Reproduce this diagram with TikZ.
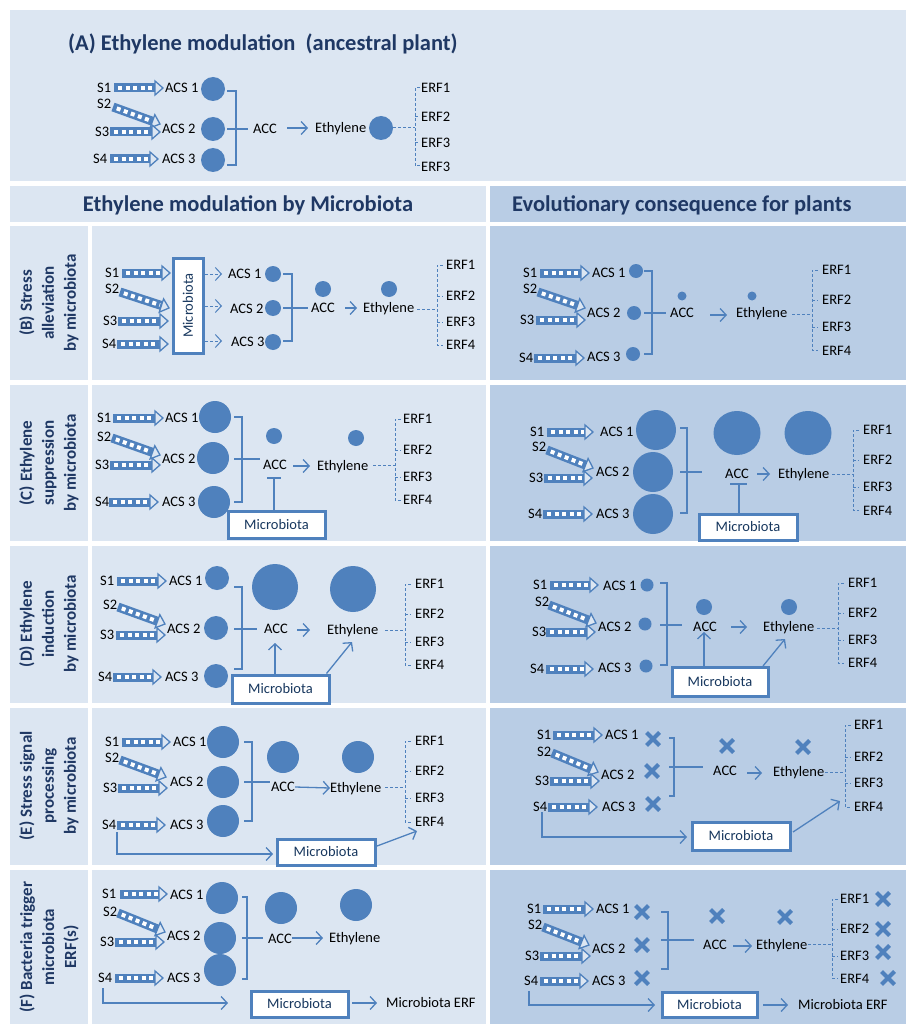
\documentclass[tikz,border=0pt]{standalone}
\usepackage{fontspec}
\setmainfont{Carlito}
\usetikzlibrary{calc,arrows.meta}
\definecolor{mblue}{HTML}{4F81BD}
\definecolor{cellL}{HTML}{DCE6F2}
\definecolor{cellR}{HTML}{B9CDE5}
\definecolor{navy}{HTML}{1F3864}
\definecolor{mtext}{HTML}{17375E}
\newcommand\dgfont{\fontsize{14.5}{16}\selectfont}
\newcommand\hdfont{\fontsize{22.5}{26}\selectfont\bfseries}
\newcommand\sidefont{\fontsize{17}{22}\selectfont\bfseries}
\newcommand\stripe[2]{%
  \coordinate (sA) at (#1);
  \coordinate (sT) at (#2);
  \coordinate (sB) at ($(sT)!8pt!(sA)$);
  \coordinate (sH1) at ($(sB)!7pt!90:(sT)$);
  \coordinate (sH2) at ($(sB)!7pt!-90:(sT)$);
  \draw[mblue,line width=9pt] (sA) -- (sB);
  \draw[white,line width=4pt,dash pattern=on 4pt off 3.5pt,shorten <=4pt,shorten >=1.5pt] (sA) -- (sB);
  \filldraw[fill=mblue!20,draw=mblue,line width=1.3pt,line join=miter] (sT) -- (sH1) -- (sH2) -- cycle;
}
\newcommand\xmk[1]{\draw[mblue,line width=4pt,shift={(#1)}] (-6.5,-6.5) -- (6.5,6.5) (-6.5,6.5) -- (6.5,-6.5);}
\begin{document}
\begin{tikzpicture}[x=1pt,y=-1pt,
  lbl/.style={font=\dgfont, inner sep=0pt, text height=10pt, text depth=1pt, anchor=west},
  bdot/.style={circle, fill=mblue, inner sep=0pt, minimum size=#1},
  mbox/.style={draw=mblue, line width=3pt, fill=white, font=\dgfont, text=mtext, inner sep=0pt},
  ln/.style={mblue, line width=1.3pt},
  arr/.style={ln, -{Straight Barb[length=6pt,width=13pt]}},
  dsh/.style={mblue, line width=1pt, dash pattern=on 3pt off 2pt},
  darr/.style={dsh, -{Straight Barb[length=6pt,width=13pt]}},
  side/.style={rotate=90, align=center, font=\sidefont, text=navy, inner sep=0pt},
  hdr/.style={font=\hdfont, text=navy, inner sep=0pt}]
\useasboundingbox (0,0) rectangle (906,1024);
\fill[white] (0,0) rectangle (906,1024);
% ---------- cells ----------
\fill[cellL] (10,10) rectangle (906,181);
\fill[cellL] (10,186) rectangle (486,222);
\fill[cellR] (490,186) rectangle (906,222);
\foreach \t/\b in {226/380,385/541,546/703,708/865,870/1024}{
  \fill[cellL] (10,\t) rectangle (88,\b);
  \fill[cellL] (92,\t) rectangle (486,\b);
  \fill[cellR] (490,\t) rectangle (906,\b);
}
% ---------- headings ----------
\node[hdr,anchor=west] (titleA) at (68,44) {(A) Ethylene modulation \ (ancestral plant)};
\node[hdr] (hL) at (248,205) {Ethylene modulation by Microbiota};
\node[hdr,anchor=west] (hR) at (512,205) {Evolutionary consequence for plants};
\node[side] (sB) at (49,303) {(B) Stress\\alleviation\\by microbiota};
\node[side] (sC) at (49,463) {(C) Ethylene\\suppression\\by microbiota};
\node[side] (sD) at (49,624) {(D) Ethylene\\induction\\by microbiota};
\node[side] (sE) at (49,786) {(E) Stress signal\\processing\\by microbiota};
\node[side] (sF) at (49,947) {(F) Bacteria trigger\\microbiota\\ERF(s)};
% ================= Panel A =================
\node[lbl] (aS1) at (97,88) {S1};
\node[lbl] (aS2) at (97,104) {S2};
\node[lbl] (aS3) at (95,132) {S3};
\node[lbl] (aS4) at (93,159) {S4};
\stripe{114,88}{163,88}
\stripe{113,107}{160,124}
\stripe{110,132}{160,132}
\stripe{110,159}{158,159}
\node[lbl] (aA1) at (165,88) {ACS 1};
\node[lbl] (aA2) at (162,129) {ACS 2};
\node[lbl] (aA3) at (162,159) {ACS 3};
\node[bdot=24pt] (aC1) at (213,89) {};
\node[bdot=24pt] (aC2) at (213,129) {};
\node[bdot=24pt] (aC3) at (213,160) {};
\draw[ln] (227,91) -| (236,165) -- (227,165);
\draw[ln] (227,129) -- (248,129);
\node[lbl] (aACC) at (253,129) {ACC};
\draw[arr] (287,128) -- (308,128);
\node[lbl] (aEth) at (315,128) {Ethylene};
\node[bdot=24pt] (aCE) at (381,128) {};
\draw[dsh] (393,128) -- (415,128);
\draw[dsh] (420,88) -- (415,88) -- (415,166) -- (420,166) (415,117) -- (420,117) (415,143) -- (420,143);
\node[lbl] (aE1) at (421,88) {ERF1};
\node[lbl] (aE2) at (421,117) {ERF2};
\node[lbl] (aE3) at (421,143) {ERF3};
\node[lbl] (aE4) at (421,167) {ERF3};
% ================= Panel B left =================
\node[lbl] (blS1) at (105,273) {S1};
\node[lbl] (blS2) at (105,289) {S2};
\node[lbl] (blS3) at (103,321) {S3};
\node[lbl] (blS4) at (102,344) {S4};
\stripe{122,273}{170,273}
\stripe{120,292}{169,308}
\stripe{118,321}{168,321}
\stripe{117,344}{168,344}
\node[mbox, minimum width=30pt, minimum height=95pt] (blM) at (188,305.5) {};
\node[rotate=90, font=\dgfont, text=mtext] at (blM) {Microbiota};
\draw[darr] (205,274) -- (222,274);
\draw[darr] (205,306) -- (222,306);
\draw[darr] (205,341) -- (222,341);
\node[lbl] (blA1) at (228,274) {ACS 1};
\node[lbl] (blA2) at (230,309) {ACS 2};
\node[lbl] (blA3) at (231,342) {ACS 3};
\node[bdot=16pt] at (273,274) {};
\node[bdot=16pt] at (273,308) {};
\node[bdot=16pt] at (273,342) {};
\draw[ln] (283,274) -| (292,341) -- (283,341);
\draw[ln] (283,308) -- (308,308);
\node[lbl] (blACC) at (311,308) {ACC};
\node[bdot=16pt] at (323,289) {};
\draw[arr] (345,308) -- (357,308);
\node[lbl] (blEth) at (363,308) {Ethylene};
\node[bdot=16pt] at (389,289) {};
\draw[dsh] (417,309) -- (437,309);
\draw[dsh] (443,265) -- (437,265) -- (437,345) -- (443,345) (437,296) -- (443,296) (437,322) -- (443,322);
\node[lbl] at (446,265) {ERF1};
\node[lbl] at (446,296) {ERF2};
\node[lbl] at (446,322) {ERF3};
\node[lbl] at (446,345) {ERF4};
% ================= Panel B right =================
\node[lbl] at (523,273) {S1};
\node[lbl] at (523,289) {S2};
\node[lbl] at (520,320) {S3};
\node[lbl] at (519,358) {S4};
\stripe{540,273}{589,273}
\stripe{538,292}{585,308}
\stripe{536,320}{585,320}
\stripe{534,358}{584,358}
\node[lbl] at (592,273) {ACS 1};
\node[lbl] at (587,313) {ACS 2};
\node[lbl] at (587,357) {ACS 3};
\node[bdot=14pt] at (636,271) {};
\node[bdot=14pt] at (634,313) {};
\node[bdot=14pt] at (633,354) {};
\draw[ln] (644,271) -| (652,354) -- (644,354);
\draw[ln] (644,313) -- (666,313);
\node[lbl] at (670,313) {ACC};
\node[bdot=9pt] at (682,296) {};
\draw[arr] (710,315) -- (727,315);
\node[lbl] at (736,313) {Ethylene};
\node[bdot=9pt] at (752,296) {};
\draw[dsh] (792,314) -- (812,314);
\draw[dsh] (818,270) -- (812,270) -- (812,350) -- (818,350) (812,300) -- (818,300) (812,327) -- (818,327);
\node[lbl] at (822,270) {ERF1};
\node[lbl] at (822,300) {ERF2};
\node[lbl] at (822,327) {ERF3};
\node[lbl] at (822,351) {ERF4};
% ================= Panel C left =================
\node[lbl] at (97,418) {S1};
\node[lbl] at (97,437) {S2};
\node[lbl] at (95,465) {S3};
\node[lbl] at (95,502) {S4};
\stripe{113,418}{163,418}
\stripe{112,438}{160,455}
\stripe{110,465}{160,465}
\stripe{109,502}{158,502}
\node[lbl] at (165,418) {ACS 1};
\node[lbl] at (162,459) {ACS 2};
\node[lbl] at (162,502) {ACS 3};
\node[bdot=32pt] at (215,417) {};
\node[bdot=32pt] at (213,458) {};
\node[bdot=32pt] at (214,502) {};
\draw[ln] (234,417) -| (242,502) -- (234,502);
\draw[ln] (234,459) -- (260,459);
\node[lbl] (clACC) at (263,465) {ACC};
\node[bdot=16pt] at (274,436) {};
\node[mbox, minimum width=97pt, minimum height=27pt] (clM) at (276.5,524.5) {Microbiota};
\draw[ln] (clM.north -| 274,0) -- (274,478);
\draw[ln] (267,478) -- (281,478);
\draw[arr] (293,466) -- (310,466);
\node[lbl] at (317,466) {Ethylene};
\node[bdot=16pt] at (356,438) {};
\draw[dsh] (373,465) -- (395,465);
\draw[dsh] (401,419) -- (395,419) -- (395,500) -- (401,500) (395,450) -- (401,450) (395,477) -- (401,477);
\node[lbl] at (403,419) {ERF1};
\node[lbl] at (403,450) {ERF2};
\node[lbl] at (403,477) {ERF3};
\node[lbl] at (403,500) {ERF4};
% ================= Panel C right =================
\node[lbl] at (530,432) {S1};
\node[lbl] at (532,447) {S2};
\node[lbl] at (529,478) {S3};
\node[lbl] at (528,514) {S4};
\stripe{547,432}{593,432}
\stripe{547,450}{593,468}
\stripe{544,478}{592,478}
\stripe{543,514}{592,514}
\node[lbl] at (600,432) {ACS 1};
\node[lbl] at (596,472) {ACS 2};
\node[lbl] at (596,514) {ACS 3};
\node[bdot=40pt] at (656,430) {};
\node[bdot=40pt] at (653,472) {};
\node[bdot=40pt] at (653,514) {};
\draw[ln] (680,428) -| (687,513) -- (680,513);
\draw[ln] (680,472) -- (702,472);
\node[lbl] at (725,474) {ACC};
\fill[mblue] (737,433) ellipse [x radius=23.5, y radius=22];
\node[mbox, minimum width=98pt, minimum height=26pt] (crM) at (748,527) {Microbiota};
\draw[ln] (crM.north -| 739,0) -- (739,484);
\draw[ln] (730,484) -- (747,484);
\draw[arr] (757,474) -- (770,474);
\node[lbl] at (778,474) {Ethylene};
\fill[mblue] (808,433) ellipse [x radius=23.5, y radius=22];
\draw[dsh] (832,474) -- (853,474);
\draw[dsh] (859,430) -- (853,430) -- (853,510) -- (859,510) (853,460) -- (859,460) (853,487) -- (859,487);
\node[lbl] at (863,430) {ERF1};
\node[lbl] at (863,460) {ERF2};
\node[lbl] at (863,487) {ERF3};
\node[lbl] at (863,511) {ERF4};
% ================= Panel D left =================
\node[lbl] at (100,581) {S1};
\node[lbl] at (103,605) {S2};
\node[lbl] at (100,635) {S3};
\node[lbl] at (98,677) {S4};
\stripe{117,581}{166,581}
\stripe{118,607}{165,624}
\stripe{116,635}{165,635}
\stripe{113,677}{161,677}
\node[lbl] at (169,581) {ACS 1};
\node[lbl] at (167,629) {ACS 2};
\node[lbl] at (165,677) {ACS 3};
\node[bdot=24pt] at (217,578) {};
\node[bdot=24pt] at (216,628) {};
\node[bdot=24pt] at (216,676) {};
\draw[ln] (234,587) -| (242,669) -- (234,669);
\draw[ln] (234,629) -- (257,629);
\node[lbl] (dlACC) at (264,629) {ACC};
\node[bdot=46pt] at (275,587) {};
\draw[arr] (297,630) -- (310,630);
\node[lbl] (dlEth) at (327,630) {Ethylene};
\node[bdot=46pt] at (353,589) {};
\node[mbox, minimum width=97pt, minimum height=28pt] (dlM) at (280.5,689) {Microbiota};
\draw[arr] (dlM.north -| 275,0) -- (275,643);
\draw[arr] (dlM.north east) ++(-4,0) -- (352,642);
\draw[dsh] (385,630) -- (405,630);
\draw[dsh] (411,584) -- (405,584) -- (405,665) -- (411,665) (405,614) -- (411,614) (405,642) -- (411,642);
\node[lbl] at (415,584) {ERF1};
\node[lbl] at (415,614) {ERF2};
\node[lbl] at (415,642) {ERF3};
\node[lbl] at (415,665) {ERF4};
% ================= Panel D right =================
\node[lbl] at (533,585) {S1};
\node[lbl] at (535,602) {S2};
\node[lbl] at (532,632) {S3};
\node[lbl] at (530,669) {S4};
\stripe{550,585}{598,585}
\stripe{549,605}{596,623}
\stripe{546,632}{595,632}
\stripe{546,669}{593,669}
\node[lbl] at (603,586) {ACS 1};
\node[lbl] at (598,627) {ACS 2};
\node[lbl] at (598,668) {ACS 3};
\node[bdot=13pt] at (647,585) {};
\node[bdot=13pt] at (645,624) {};
\node[bdot=13pt] at (646,666) {};
\draw[ln] (660,583) -| (667,665) -- (660,665);
\draw[ln] (660,625) -- (682,625);
\node[lbl] at (693,627) {ACC};
\node[bdot=16pt] at (704,607) {};
\draw[arr] (731,627) -- (747,627);
\node[lbl] at (763,627) {Ethylene};
\node[bdot=16pt] at (789,607) {};
\node[mbox, minimum width=96pt, minimum height=29pt] (drM) at (720,681.5) {Microbiota};
\draw[arr] (drM.north -| 704,0) -- (704,632);
\draw[arr] (763,666) -- (785,639);
\draw[dsh] (817,628) -- (838,628);
\draw[dsh] (844,583) -- (838,583) -- (838,663) -- (844,663) (838,613) -- (844,613) (838,640) -- (844,640);
\node[lbl] at (848,583) {ERF1};
\node[lbl] at (848,613) {ERF2};
\node[lbl] at (848,640) {ERF3};
\node[lbl] at (848,663) {ERF4};
% ================= Panel E left =================
\node[lbl] at (105,742) {S1};
\node[lbl] at (105,758) {S2};
\node[lbl] at (103,788) {S3};
\node[lbl] (elS4) at (102,825) {S4};
\stripe{122,742}{170,742}
\stripe{120,760}{166,777}
\stripe{118,788}{167,788}
\stripe{117,825}{165,825}
\node[lbl] at (173,742) {ACS 1};
\node[lbl] at (170,782) {ACS 2};
\node[lbl] at (170,825) {ACS 3};
\node[bdot=32pt] at (223,742) {};
\node[bdot=32pt] at (223,782) {};
\node[bdot=32pt] at (223,821) {};
\draw[ln] (244,742) -| (252,821) -- (244,821);
\draw[ln] (244,782) -- (270,782);
\node[lbl] (elACC) at (271,787) {ACC};
\node[bdot=32pt] at (283,757) {};
\node[lbl] (elEth) at (330,788) {Ethylene};
\draw[arr] (elACC.east) -- (elEth.west);
\node[bdot=32pt] at (358,757) {};
\draw[dsh] (385,787) -- (405,787);
\draw[dsh] (411,741) -- (405,741) -- (405,822) -- (411,822) (405,771) -- (411,771) (405,798) -- (411,798);
\node[lbl] at (415,741) {ERF1};
\node[lbl] at (415,771) {ERF2};
\node[lbl] at (415,798) {ERF3};
\node[lbl] (elE4) at (415,822) {ERF4};
\node[mbox, minimum width=98pt, minimum height=26pt] (elM) at (326,852) {Microbiota};
\draw[arr] (117,832) -- (117,854) -- (273,854);
\draw[arr] (377,846) -- (417,831);
% ================= Panel E right =================
\node[lbl] at (537,735) {S1};
\node[lbl] at (537,752) {S2};
\node[lbl] at (535,781) {S3};
\node[lbl] at (533,807) {S4};
\stripe{553,735}{602,735}
\stripe{552,753}{598,772}
\stripe{550,781}{599,781}
\stripe{548,807}{597,807}
\node[lbl] at (605,735) {ACS 1};
\node[lbl] at (601,775) {ACS 2};
\node[lbl] at (602,807) {ACS 3};
\xmk{653,739}
\xmk{652,771}
\xmk{653,804}
\draw[ln] (669,738) -| (674,796) -- (669,796);
\draw[ln] (669,767) -- (703,767);
\node[lbl] at (713,771) {ACC};
\xmk{727,746}
\draw[arr] (747,773) -- (762,773);
\node[lbl] at (773,772) {Ethylene};
\xmk{803,747}
\draw[dsh] (825,772) -- (845,772);
\draw[dsh] (851,725) -- (845,725) -- (845,807) -- (851,807) (845,757) -- (851,757) (845,783) -- (851,783);
\node[lbl] at (854,725) {ERF1};
\node[lbl] at (854,757) {ERF2};
\node[lbl] at (854,783) {ERF3};
\node[lbl] at (854,807) {ERF4};
\node[mbox, minimum width=98pt, minimum height=28pt] (erM) at (741,836) {Microbiota};
\draw[arr] (542,812) -- (542,837) -- (687,837);
\draw[arr] (793,832) -- (840,801);
% ================= Panel F left =================
\node[lbl] at (102,894) {S1};
\node[lbl] at (103,912) {S2};
\node[lbl] at (100,942) {S3};
\node[lbl] at (98,978) {S4};
\stripe{120,894}{167,894}
\stripe{118,913}{165,932}
\stripe{115,942}{164,942}
\stripe{115,978}{163,978}
\node[lbl] at (170,895) {ACS 1};
\node[lbl] at (167,936) {ACS 2};
\node[lbl] at (167,978) {ACS 3};
\node[bdot=32pt] at (222,898) {};
\node[bdot=32pt] at (220,938) {};
\node[bdot=32pt] at (220,970) {};
\draw[ln] (242,897) -| (247,979) -- (242,979);
\draw[ln] (242,938) -- (263,938);
\node[lbl] (flACC) at (268,939) {ACC};
\node[bdot=32pt] at (281,908) {};
\node[lbl] (flEth) at (329,938) {Ethylene};
\draw[arr] (292,938) -- (323,938);
\node[bdot=32pt] at (356,905) {};
\node[mbox, minimum width=97pt, minimum height=26pt] (flM) at (299.5,1004) {Microbiota};
\draw[arr] (103,988) -- (103,1003) -- (228,1003);
\node[lbl] (flERF) at (386,1003) {Microbiota ERF};
\draw[arr] (352,1003) -- (377,1003);
% ================= Panel F right =================
\node[lbl] at (527,909) {S1};
\node[lbl] at (528,925) {S2};
\node[lbl] at (525,956) {S3};
\node[lbl] at (524,981) {S4};
\stripe{543,909}{593,909}
\stripe{543,927}{589,945}
\stripe{540,956}{590,956}
\stripe{540,981}{588,981}
\node[lbl] at (596,909) {ACS 1};
\node[lbl] at (592,949) {ACS 2};
\node[lbl] at (592,981) {ACS 3};
\xmk{642,912}
\xmk{642,945}
\xmk{642,978}
\draw[ln] (661,912) -| (668,969) -- (661,969);
\draw[ln] (661,940) -- (694,940);
\node[lbl] at (703,945) {ACC};
\xmk{717,916}
\draw[arr] (733,946) -- (752,946);
\node[lbl] at (756,945) {Ethylene};
\xmk{785,917}
\draw[dsh] (808,944) -- (832,944);
\draw[dsh] (838,899) -- (832,899) -- (832,978) -- (838,978) (832,929) -- (838,929) (832,956) -- (838,956);
\node[lbl] at (840,899) {ERF1};
\node[lbl] at (840,929) {ERF2};
\node[lbl] at (840,956) {ERF3};
\node[lbl] at (840,979) {ERF4};
\xmk{883,899}
\xmk{883,929}
\xmk{883,952}
\xmk{888,978}
\node[mbox, minimum width=95pt, minimum height=25pt] (frM) at (709.5,1004.5) {Microbiota};
\draw[arr] (529,991) -- (529,1005) -- (655,1005);
\draw[arr] (763,1005) -- (788,1005);
\node[lbl] at (798,1005) {Microbiota ERF};
\end{tikzpicture}
\end{document}
